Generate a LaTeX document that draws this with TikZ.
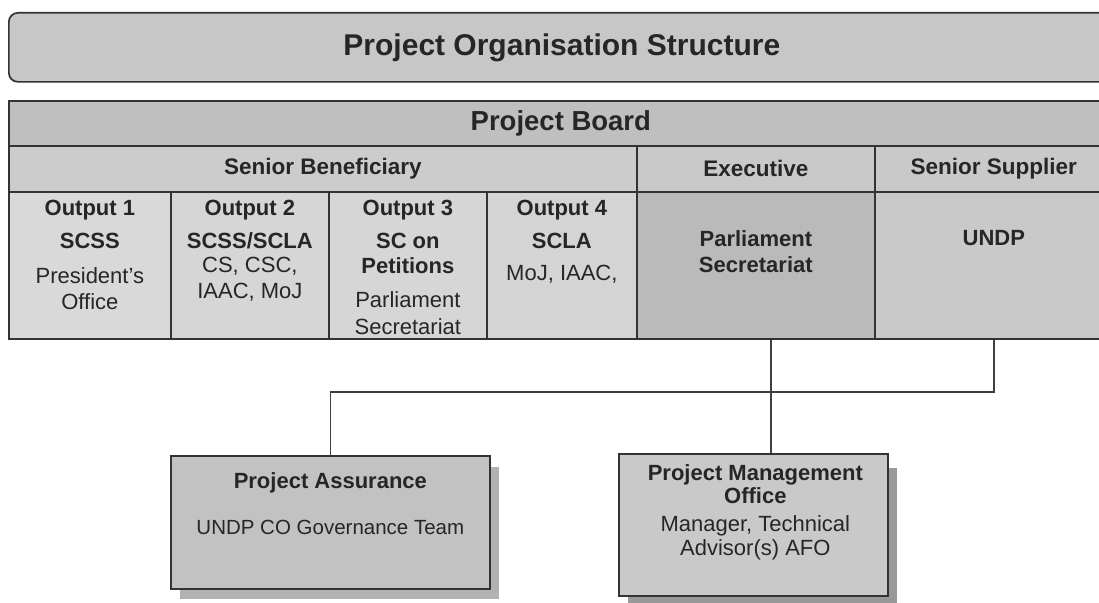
\documentclass[tikz,border=0pt]{standalone}
\usepackage{fontspec}
\setmainfont{Liberation Sans}
\begin{document}
\begin{tikzpicture}[x=1pt,y=-1pt,
  every node/.style={text=black!85},
  rule/.style={draw=black!80,line width=1.7pt},
  cellbox/.style={rule,rectangle,inner sep=0pt,anchor=north west},
  hdr/.style={font=\fontsize{22.5}{26}\selectfont\bfseries},
  body/.style={font=\fontsize{22}{26}\selectfont,align=center,inner sep=0pt,anchor=north},
  conn/.style={draw=black!75,line width=1.3pt},
  shade/.style={fill=black!40,draw=none}
]
\useasboundingbox (0,0) rectangle (1099,602);
\clip (0,0) rectangle (1099,602);
\fill[white] (0,0) rectangle (1099,602);

% heading banner
\node[rule,rectangle,rounded corners=9pt,fill=black!22,anchor=north west,
      minimum width=1106pt,minimum height=69pt,inner sep=0pt,
      font=\fontsize{30}{32}\selectfont\bfseries] (title) at (8,12)
      {Project Organisation Structure};

% board table: top rows
\node[cellbox,fill=black!25,minimum width=1104pt,minimum height=45pt,
      font=\fontsize{27.5}{30}\selectfont\bfseries] (pb) at (8,100) {Project Board};
\node[cellbox,fill=black!20,minimum width=628pt,minimum height=46pt,hdr] (sb) at (8,145) {Senior Beneficiary};
\node[cellbox,fill=black!21,minimum width=238pt,minimum height=46pt,hdr] (exec) at (636,145) {Executive};
\node[cellbox,fill=black!21,minimum width=238pt,minimum height=46pt,hdr] (ss) at (874,145) {Senior Supplier};

% board table: member cells
\node[cellbox,fill=black!15,minimum width=162pt,minimum height=147pt] (o1) at (8,191) {};
\node[cellbox,fill=black!16,minimum width=158pt,minimum height=147pt] (o2) at (170,191) {};
\node[cellbox,fill=black!16,minimum width=158pt,minimum height=147pt] (o3) at (328,191) {};
\node[cellbox,fill=black!17,minimum width=150pt,minimum height=147pt] (o4) at (486,191) {};
\node[cellbox,fill=black!27,minimum width=238pt,minimum height=147pt] (ps) at (636,191) {};
\node[cellbox,fill=black!21,minimum width=238pt,minimum height=147pt] (undp) at (874,191) {};

\node[body] (o1t) at ([yshift=-9pt]o1.north)
  {\textbf{Output 1}\\[7pt]\textbf{SCSS}\\[9pt]President's\\Office};
\node[body] (o2t) at ([yshift=-9pt]o2.north)
  {\textbf{Output 2}\\[7pt]\textbf{SCSS/SCLA}\\[-2pt]CS, CSC,\\IAAC, MoJ};
\node[body] (o3t) at ([yshift=-9pt]o3.north)
  {\textbf{Output 3}\\[7pt]\textbf{SC on}\\[-1pt]\textbf{Petitions}\\[8pt]Parliament\\[1pt]Secretariat};
\node[body] (o4t) at ([yshift=-9pt]o4.north)
  {\textbf{Output 4}\\[7pt]\textbf{SCLA}\\[6pt]MoJ, IAAC,};
\node[body,font=\fontsize{22}{26}\selectfont\bfseries] (pst) at ([yshift=-39pt]ps.north)
  {Parliament\\Secretariat};
\node[body,font=\fontsize{22}{26}\selectfont\bfseries] (undpt) at ([yshift=-39pt]undp.north) {UNDP};

% drop shadows of the two lower boxes
\fill[shade,fill=black!30] (180,467) rectangle (499,599);
\fill[shade] (628,468) rectangle (897,608);

% lower boxes
\node[cellbox,fill=black!24,minimum width=319pt,minimum height=133pt] (pa) at (170,455) {};
\node[cellbox,fill=black!21,minimum width=269pt,minimum height=142pt] (pmo) at (618,453) {};

\node[body,font=\fontsize{22}{26}\selectfont\bfseries] (pat) at ([yshift=-17pt]pa.north) {Project Assurance};
\node[body,font=\fontsize{20.5}{26}\selectfont] (pas) at ([yshift=-65pt]pa.north) {UNDP CO Governance Team};
\node[body] (pmot) at ([xshift=2pt,yshift=-11pt]pmo.north)
  {\textbf{Project Management}\\[-3pt]\textbf{Office}\\[2pt]Manager, Technical\\[-2pt]Advisor(s) AFO};

% reporting lines
\coordinate (bus) at (0,392);
\draw[conn] (undp.south) |- (pa.north |- bus) -- (pa.north);
\draw[conn] ([xshift=15pt]ps.south) -- ([xshift=15pt]ps.south |- pmo.north);
\end{tikzpicture}
\end{document}
